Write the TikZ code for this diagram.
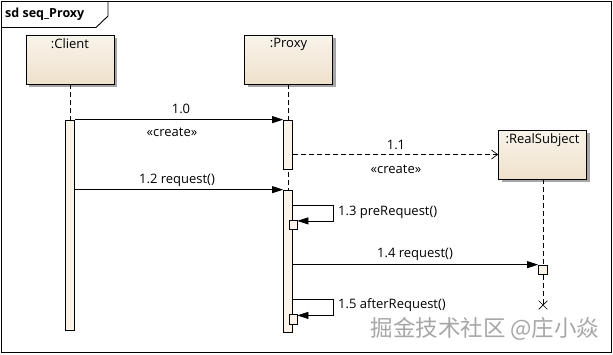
\documentclass[tikz,border=0pt]{standalone}
\usepackage{fontspec}
\setmainfont{Open Sans}
\newfontfamily\cjk{Noto Sans CJK SC}
\usetikzlibrary{arrows.meta,shadows,shapes.misc}
\definecolor{boxtop}{HTML}{F8F3EA}
\definecolor{boxbot}{HTML}{EFE2CC}
\definecolor{actfill}{HTML}{FBF3E8}
\tikzset{
  objbox/.style={draw, line width=0.8pt, minimum width=88pt, minimum height=49pt,
    top color=boxtop, bottom color=boxbot,
    drop shadow={shadow xshift=3pt, shadow yshift=-3pt, fill=black!35, opacity=1}},
  objtext/.style={anchor=north, inner sep=0pt, font=\fontsize{13}{15}\selectfont},
  actbar/.style={draw, line width=0.7pt, fill=actfill, minimum width=9pt, inner sep=0pt},
  lifeline/.style={dash pattern=on 5pt off 3pt, line width=0.7pt},
  msg/.style={line width=0.7pt, -{Triangle[length=11pt,width=7pt]}},
  createmsg/.style={line width=0.7pt, dash pattern=on 5pt off 3pt, -{Straight Barb[length=6pt,width=9pt]}},
  lbl/.style={inner sep=0pt, font=\fontsize{13}{15}\selectfont},
}
\begin{document}
\begin{tikzpicture}[x=1pt,y=-1pt]
\useasboundingbox (0,0) rectangle (613,354);
% frame
\draw[line width=0.9pt] (1.5,1.5) rectangle (611.5,352.5);
\draw[line width=0.9pt] (1.5,27.5) -- (96,27.5) -- (108,16) -- (108,1.5);
\node[anchor=west, inner sep=0pt, font=\bfseries\fontsize{12.5}{14}\selectfont] (title) at (5,14) {sd seq\_Proxy};

% objects
\node[objbox] (client) at (70,59.5) {};
\node[objtext] (clientt) at (70,38) {:Client};
\node[objbox] (proxy) at (288.5,59.5) {};
\node[objtext] (proxyt) at (288.5,38) {:Proxy};
\node[objbox] (rs) at (542.5,154.5) {};
\node[objtext] (rst) at (542.5,133) {:RealSubject};

% lifelines
\draw[lifeline] (client.south) -- (70,120);
\draw[lifeline] (proxy.south -| 288,0) -- (288,332);
\draw[lifeline] (rs.south -| 543,0) -- (543,305);

% activations
\node[actbar, minimum height=210pt] (cact) at (70,225) {};
\node[actbar, minimum height=49pt] (pact1) at (288,144.5) {};
\node[actbar, minimum height=142pt] (pact2) at (288,261) {};
\node[actbar, minimum width=8pt, minimum height=9.5pt] (pre) at (293,225) {};
\node[actbar, minimum width=8pt, minimum height=9.5pt] (post) at (293,319.5) {};
\node[actbar, minimum width=9pt, minimum height=9pt] (rsa) at (543,269.5) {};
\node[cross out, draw, line width=0.7pt, minimum size=8pt, inner sep=0pt] (destroy) at (543,305) {};

% messages
\draw[msg] (cact.north east) -- (pact1.north west);
\node[lbl] (l10) at (181,109) {1.0};
\node[lbl] (l10c) at (172,132) {«create»};

\draw[createmsg] (pact1.east |- rs.west) -- (rs.west);
\node[lbl] (l11) at (396,145) {1.1};
\node[lbl] (l11c) at (396,169) {«create»};

\draw[msg] (cact.east |- pact2.north) -- (pact2.north west);
\node[lbl] (l12) at (177,180) {1.2 request()};

\coordinate (c13) at (333,205);
\draw[msg] (pact2.east |- c13) -- (c13) |- ([yshift=-1pt]pre.north east);
\node[lbl, anchor=west] (l13) at (338,212) {1.3 preRequest()};

\draw[msg] (pact2.east |- rsa.north) -- (rsa.north west);
\node[lbl] (l14) at (415,254) {1.4 request()};

\coordinate (c15) at (333,299);
\draw[msg] (pact2.east |- c15) -- (c15) |- ([yshift=-1pt]post.north east);
\node[lbl, anchor=west] (l15) at (338,305) {1.5 afterRequest()};

% watermark
\node[inner sep=0pt, text=black!35, font=\cjk\fontsize{22.5}{25}\selectfont] (wm) at (485,329) {掘金技术社区 @庄小焱};
\end{tikzpicture}
\end{document}
